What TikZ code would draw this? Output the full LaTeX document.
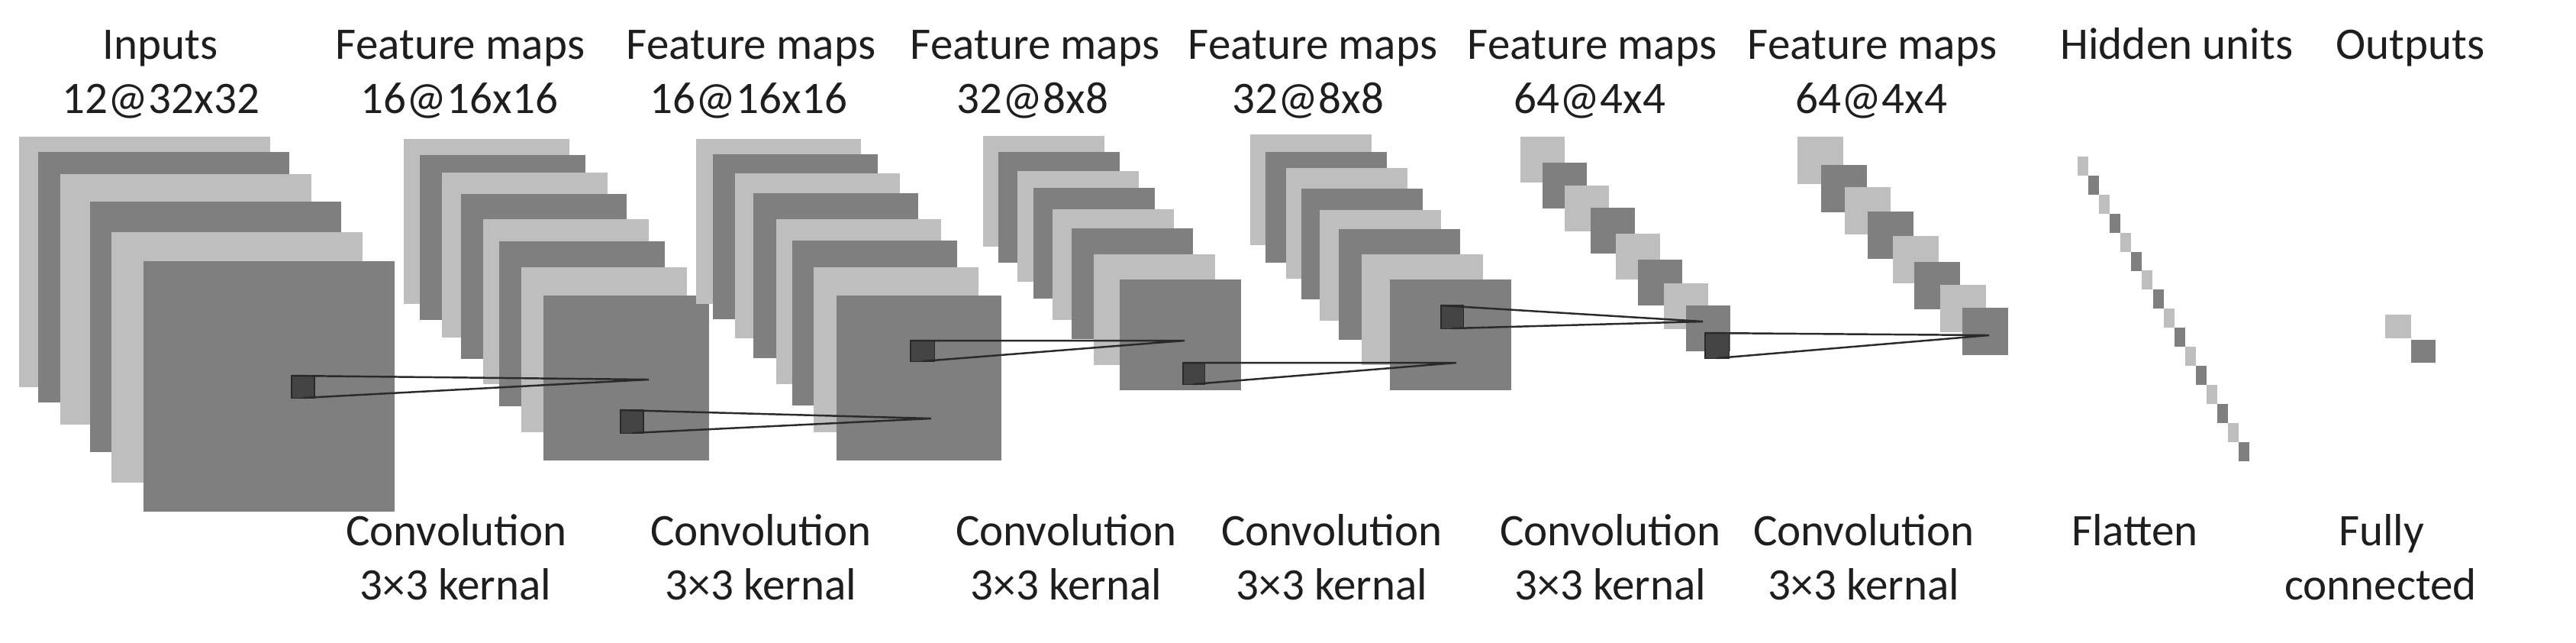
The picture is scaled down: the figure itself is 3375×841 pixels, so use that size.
\documentclass[tikz,border=0pt]{standalone}
\usepackage{fontspec}
\setmainfont{Carlito}
\definecolor{lgray}{HTML}{BEBEBE}
\definecolor{dgray}{HTML}{7F7F7F}
\definecolor{kgray}{HTML}{444444}
\definecolor{kline}{HTML}{2A2A2A}
\definecolor{tcol}{HTML}{1E1E1E}
\begin{document}
\begin{tikzpicture}[x=0.01cm,y=-0.01cm,
  kern/.style={fill=kgray, draw=kline, line width=0.3pt, inner sep=0pt, outer sep=0pt, anchor=north west},
  kl/.style={draw=kline, line width=0.7pt},
  lab/.style={anchor=base, inner sep=0pt, font=\fontsize{16.8}{20}\selectfont, text=tcol}]
\useasboundingbox (0,0) rectangle (3375,841);
\fill[white] (0,0) rectangle (3375,841);
% stack 1: inputs
\foreach \x/\y/\c in {25/179/lgray,50/199/dgray,79/228/lgray,118/264/dgray,146/304/lgray,188/342/dgray}
  \fill[\c] (\x,\y) rectangle ++(329,328);
% stack 2
\foreach \x/\y/\c in {529/182/lgray,550/203/dgray,579/226/lgray,604/254/dgray,633/287/lgray,654/316/dgray,683/350/lgray,712/387/dgray}
  \fill[\c] (\x,\y) rectangle ++(217,216);
% stack 3
\foreach \x/\y/\c in {912/182/lgray,934/202/dgray,963/227/lgray,987/253/dgray,1017/287/lgray,1038/315/dgray,1066/350/lgray,1096/387/dgray}
  \fill[\c] (\x,\y) rectangle ++(216,216);
% stack 4
\foreach \x/\y/\c in {1288/178/lgray,1308/199/dgray,1333/224/lgray,1354/246/dgray,1379/274/lgray,1404/299/dgray,1433/333/lgray,1467/366/dgray}
  \fill[\c] (\x,\y) rectangle ++(159,145);
% stack 5
\foreach \x/\y/\c in {1638/176/lgray,1658/199/dgray,1685/220/lgray,1705/247/dgray,1729/275/lgray,1754/300/dgray,1784/333/lgray,1821/366/dgray}
  \fill[\c] (\x,\y) rectangle ++(159,145);
% stack 6
\foreach \x/\y/\c in {1992/179/lgray,2021/213/dgray,2050/243/lgray,2084/272/dgray,2117/306/lgray,2146/340/dgray,2180/371/lgray,2209/400/dgray}
  \fill[\c] (\x,\y) rectangle ++(58,60);
% stack 7
\foreach \x/\y/\c in {2355/179/lgray,2386/216/dgray,2417/245/lgray,2447/277/dgray,2480/309/lgray,2508/343/dgray,2542/373/lgray,2571/403/dgray}
  \fill[\c] (\x,\y) rectangle ++(60,62);
% flatten
\foreach \i in {0,...,15}{
  \pgfmathsetmacro{\fx}{2722+14.07*\i}
  \pgfmathsetmacro{\fy}{205+24.9*\i}
  \ifodd\i \fill[dgray] (\fx,\fy) rectangle ++(14,25);
  \else \fill[lgray] (\fx,\fy) rectangle ++(14,25); \fi
}
% outputs
\fill[lgray] (3125,412) rectangle (3159,443);
\fill[dgray] (3159,445) rectangle (3191,475);
% kernels and connectors
\node[kern, minimum width=0.30cm, minimum height=0.29cm] (k1) at (382,492) {};
\node[kern, minimum width=0.30cm, minimum height=0.30cm] (k2) at (813,537) {};
\node[kern, minimum width=0.31cm, minimum height=0.27cm] (k3) at (1193,446) {};
\node[kern, minimum width=0.28cm, minimum height=0.28cm] (k4) at (1550,475) {};
\node[kern, minimum width=0.29cm, minimum height=0.30cm] (k5) at (1888,400) {};
\node[kern, minimum width=0.31cm, minimum height=0.33cm] (k6) at (2234,436) {};
\coordinate (a1) at (850,497);
\coordinate (a2) at (1220,548);
\coordinate (a3) at (1552,446);
\coordinate (a4) at (1908,475);
\coordinate (a5) at (2231,421);
\coordinate (a6) at (2606,439);
\foreach \n in {1,...,6}
  \draw[kl] (k\n.north west) -- (a\n) -- (k\n.south);
% top labels
\node[lab] (t1a) at (210,77) {Inputs};
\node[lab] (t1b) at (211,148) {12@32x32};
\node[lab] (t2a) at (603,77) {Feature maps};
\node[lab] (t2b) at (602,148) {16@16x16};
\node[lab] (t3a) at (984,77) {Feature maps};
\node[lab] (t3b) at (981,148) {16@16x16};
\node[lab] (t4a) at (1356,77) {Feature maps};
\node[lab] (t4b) at (1353,148) {32@8x8};
\node[lab] (t5a) at (1720,77) {Feature maps};
\node[lab] (t5b) at (1714,148) {32@8x8};
\node[lab] (t6a) at (2086,77) {Feature maps};
\node[lab] (t6b) at (2083,148) {64@4x4};
\node[lab] (t7a) at (2453,77) {Feature maps};
\node[lab] (t7b) at (2452,148) {64@4x4};
\node[lab] (t8a) at (2852,77) {Hidden units};
\node[lab] (t9a) at (3158,77) {Outputs};
% bottom labels
\node[lab] (b1a) at (598,714) {Convolution};
\node[lab] (b1b) at (597,785) {3×3 kernal};
\node[lab] (b2a) at (997,714) {Convolution};
\node[lab] (b2b) at (997,785) {3×3 kernal};
\node[lab] (b3a) at (1397,714) {Convolution};
\node[lab] (b3b) at (1397,785) {3×3 kernal};
\node[lab] (b4a) at (1745,714) {Convolution};
\node[lab] (b4b) at (1745,785) {3×3 kernal};
\node[lab] (b5a) at (2110,714) {Convolution};
\node[lab] (b5b) at (2110,785) {3×3 kernal};
\node[lab] (b6a) at (2442,714) {Convolution};
\node[lab] (b6b) at (2442,785) {3×3 kernal};
\node[lab] (b7a) at (2797,714) {Flatten};
\node[lab] (b8a) at (3120,714) {Fully};
\node[lab] (b8b) at (3119,785) {connected};
\end{tikzpicture}
\end{document}
